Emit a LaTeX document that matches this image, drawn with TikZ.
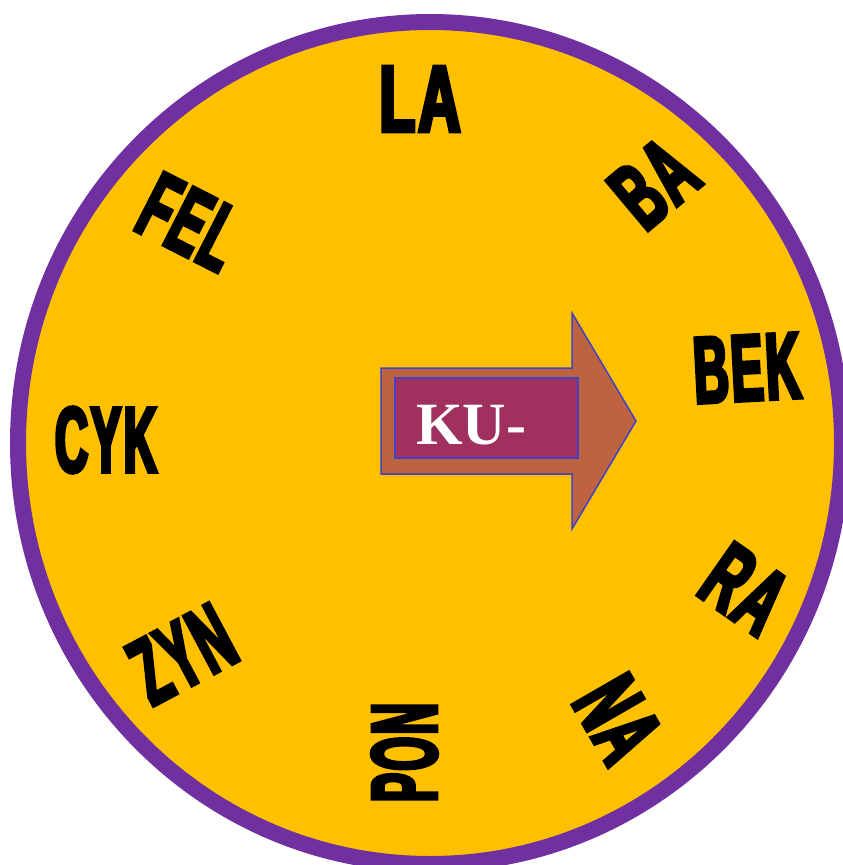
\documentclass[tikz,border=0pt]{standalone}
\usepackage{fontspec}
\setmainfont{Liberation Serif}
\newfontfamily\wordfont{Liberation Sans}[FakeStretch=0.57,FakeBold=4,LetterSpace=3]
\usepackage{graphicx}
\definecolor{wheelyellow}{HTML}{FFC000}
\definecolor{wheelpurple}{HTML}{7030A0}
\definecolor{arrowfill}{HTML}{BE6340}
\definecolor{boxfill}{HTML}{A0305E}
\definecolor{edgeblue}{HTML}{4040C8}
\newcommand{\fitword}[2]{\resizebox{#1pt}{65pt}{\wordfont\bfseries\fontsize{90}{90}\selectfont #2}}
\begin{document}
\begin{tikzpicture}[x=1pt,y=-1pt,
  word/.style={inner sep=0pt, outer sep=0pt, text=black},
  wheel/.style={line width=16pt, draw=wheelpurple, fill=wheelyellow},
  arrowshape/.style={draw=edgeblue, line width=1.5pt, fill=arrowfill, line join=miter},
  kubox/.style={draw=edgeblue, line width=2pt, fill=boxfill, minimum width=183pt, minimum height=80pt, inner sep=0pt},
  kutext/.style={text=white, font=\fontsize{60}{60}\selectfont\bfseries, inner sep=0pt}]
\useasboundingbox (0,0) rectangle (843,865);
\clip (0,0) rectangle (843,865);
\draw[wheel] (430,443) ellipse [x radius=412pt, y radius=421pt];
\coordinate (a1) at (381,368);
\coordinate (a2) at (572,368);
\coordinate (a3) at (572,313);
\coordinate (a4) at (636,421);
\coordinate (a5) at (572,529);
\coordinate (a6) at (572,474);
\coordinate (a7) at (381,474);
\draw[arrowshape] (a1) -- (a2) -- (a3) -- (a4) -- (a5) -- (a6) -- (a7) -- cycle;
\node[kubox] (box) at (486.5,418) {};
\node[kutext, anchor=base west] (ku) at (416,444) {KU-};
\node[word] (la) at (420,99) {\fitword{81}{LA}};
\node[word, rotate=40] (ba) at (654,183) {\fitword{77}{BA}};
\node[word, rotate=3] (bek) at (747,368) {\fitword{107}{BEK}};
\node[word, rotate=-35] (ra) at (745,589) {\fitword{78}{RA}};
\node[word, rotate=-60] (na) at (618,719) {\fitword{77}{NA}};
\node[word, rotate=90] (pon) at (404.5,752.5) {\fitword{99}{PON}};
\node[word, rotate=28] (zyn) at (182,654) {\fitword{102}{ZYN}};
\node[word] (cyk) at (106,440) {\fitword{102}{CYK}};
\node[word, rotate=-27] (fel) at (190,222) {\fitword{98}{FEL}};
\end{tikzpicture}
\end{document}
